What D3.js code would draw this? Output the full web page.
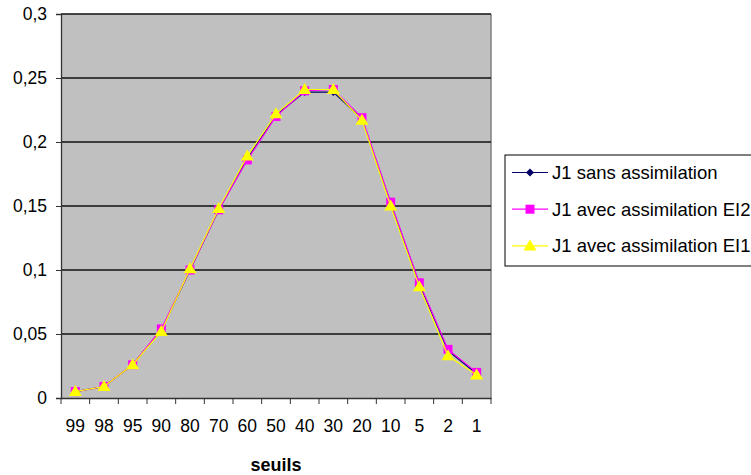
<!DOCTYPE html>
<html><head><meta charset="utf-8">
<script src="https://cdn.jsdelivr.net/npm/d3@7"></script>
<style>body{margin:0;background:#fff}svg{display:block;font-family:"Liberation Sans",Arial,sans-serif}</style>
</head><body>
<svg id="c" width="751" height="475"></svg>
<script>
const categories = ["99","98","95","90","80","70","60","50","40","30","20","10","5","2","1"];
const sansAssim = [0.005,0.009,0.026,0.053,0.100,0.147,0.187,0.221,0.239,0.239,0.218,0.152,0.089,0.037,0.019];
const avecEI2  = [0.005,0.009,0.026,0.054,0.100,0.147,0.186,0.220,0.240,0.241,0.219,0.153,0.090,0.038,0.020];
const avecEI1  = [0.005,0.009,0.026,0.052,0.101,0.148,0.189,0.222,0.241,0.241,0.217,0.150,0.087,0.033,0.018];
const seriesNames = ["J1 sans assimilation","J1 avec assimilation EI2","J1 avec assimilation EI1"];
const yTicks = [0,0.05,0.1,0.15,0.2,0.25,0.3];
const xTitle = "seuils";

const series = [
  {name:seriesNames[0], values:sansAssim, color:"#000066", marker:"diamond"},
  {name:seriesNames[1], values:avecEI2, color:"#ff00ff", marker:"square"},
  {name:seriesNames[2], values:avecEI1, color:"#ffff00", marker:"triangle"}
];

const svg = d3.select("#c");
const L=61, R=491, T=14, B=398;
const x = d3.scaleBand().domain(categories).range([L,R]);
const y = d3.scaleLinear().domain([0,0.3]).range([B,T]);

svg.append("rect").attr("x",L).attr("y",T).attr("width",R-L).attr("height",B-T).attr("fill","#c0c0c0");
svg.append("line").attr("x1",R).attr("x2",R).attr("y1",T).attr("y2",B).attr("stroke","#808080").attr("stroke-width",1.5);

svg.append("g").selectAll("line").data(yTicks.filter(d=>d>0)).join("line")
  .attr("x1",L).attr("x2",R).attr("y1",d=>y(d)).attr("y2",d=>y(d))
  .attr("stroke","#111").attr("stroke-width",1.3);

const fmt = d => String(d).replace(".",",");
const yAxis = svg.append("g").attr("transform",`translate(${L},0)`)
  .call(d3.axisLeft(y).tickValues(yTicks).tickFormat(fmt).tickSize(5).tickPadding(9));
yAxis.select(".domain").attr("stroke","#333").attr("stroke-width",1.3);
yAxis.selectAll(".tick line").attr("stroke","#333");
yAxis.selectAll("text").attr("font-size",17.5).attr("fill","#000");

const xAxis = svg.append("g").attr("transform",`translate(0,${B})`)
  .call(d3.axisBottom(x).tickSize(0).tickPadding(22));
xAxis.select(".domain").attr("stroke","#333").attr("stroke-width",1.3);
xAxis.selectAll("text").attr("font-size",17.5).attr("fill","#000");
const bounds = categories.map(c=>x(c)).concat([R]);
xAxis.selectAll(".sep").data(bounds).join("line").attr("class","sep")
  .attr("x1",d=>d).attr("x2",d=>d).attr("y1",0).attr("y2",6).attr("stroke","#333");

svg.append("text").attr("x",(L+R)/2).attr("y",471).attr("text-anchor","middle")
  .attr("font-size",18).attr("font-weight","bold").text(xTitle);

const cx = c => x(c)+x.bandwidth()/2;
const line = d3.line().x((d,i)=>cx(categories[i])).y(d=>y(d));

function marker(g, type, color, px, py){
  if(type==="diamond"){
    g.append("path").attr("d",`M${px},${py-4}L${px+4},${py}L${px},${py+4}L${px-4},${py}Z`).attr("fill",color);
  } else if(type==="square"){
    g.append("rect").attr("x",px-4.5).attr("y",py-4.5).attr("width",9).attr("height",9).attr("fill",color);
  } else {
    g.append("path").attr("d",`M${px},${py-6.5}L${px+6.5},${py+4.5}L${px-6.5},${py+4.5}Z`).attr("fill",color);
  }
}

series.forEach(s=>{
  const g = svg.append("g");
  g.append("path").datum(s.values).attr("d",line).attr("fill","none").attr("stroke",s.color).attr("stroke-width",1.2);
  s.values.forEach((v,i)=>marker(g,s.marker,s.color,cx(categories[i]),y(v)));
});

const lg = svg.append("g");
lg.append("rect").attr("x",505).attr("y",155).attr("width",260).attr("height",111)
  .attr("fill","#fff").attr("stroke","#000").attr("stroke-width",1);
series.forEach((s,i)=>{
  const yy = 172.5 + i*36.7;
  lg.append("line").attr("x1",512).attr("x2",548).attr("y1",yy).attr("y2",yy).attr("stroke",s.color).attr("stroke-width",1.2);
  marker(lg,s.marker,s.color,530,yy);
  lg.append("text").attr("x",552).attr("y",yy).attr("dy","0.35em").attr("font-size",18.5).attr("fill","#000").text(s.name);
});
</script>
</body></html>
